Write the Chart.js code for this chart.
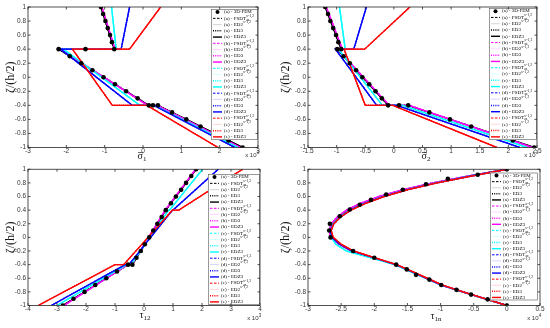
<!DOCTYPE html>
<html>
<head>
<meta charset="utf-8">
<script src="https://cdn.jsdelivr.net/npm/chart.js@4.4.1/dist/chart.umd.min.js"></script>
<style>
  html, body { margin: 0; padding: 0; background: #fff; }
  #wrap { position: relative; width: 550px; height: 328px; }
  #wrap canvas { position: absolute; }
</style>
</head>
<body>
<div id="wrap">
  <canvas id="c1" width="275" height="164" style="left:0;top:0"></canvas>
  <canvas id="c2" width="275" height="164" style="left:275px;top:0"></canvas>
  <canvas id="c3" width="275" height="164" style="left:0;top:164px"></canvas>
  <canvas id="c4" width="275" height="164" style="left:275px;top:164px"></canvas>
</div>
<script>
// legend entries
const caseNames = ['(a)', '(b)', '(c)', '(d)', '(e)'];
const theoryNames = ['FSDT', 'ED2', 'ED3', 'EDZ3'];
const caseColors = ['#000000', '#ff00ff', '#00ffff', '#0000ff', '#ff0000'];
const caseLight = ['#c4c4c4', '#ffc4ff', '#c4ffff', '#c4c4ff', '#ffc4c4'];

// tick labels
const zetaTicks = [-1, -0.8, -0.6, -0.4, -0.2, 0, 0.2, 0.4, 0.6, 0.8, 1];
const sig1Ticks = [-3, -2, -1, 0, 1, 2, 3];
const sig2Ticks = [-1.5, -1, -0.5, 0, 0.5, 1, 1.5, 2, 2.5];
const tau12Ticks = [-4, -3, -2, -1, 0, 1, 2, 3, 4];
const tau1nTicks = [-3, -2.5, -2, -1.5, -1, -0.5, 0, 0.5];

// zeta at layer interfaces (in-plane stresses, piecewise linear)
const zetaLayers = [1, 0.4, 0.4, -0.4, -0.4, -1];
// zeta for the transverse shear curves
const zetaCurve = [1, 0.9, 0.8, 0.7, 0.6, 0.5, 0.4, 0.3, 0.2, 0.1, 0, -0.1, -0.2, -0.3, -0.4, -0.5, -0.6, -0.7, -0.8, -0.9, -1];

// sigma_1 (x 10^3)
const sig1A = [-1.10, -0.75, -2.20, 0.15, 0.39, 2.60];
const sig1B = [-1.07, -0.73, -2.16, 0.12, 0.37, 2.55];
const sig1C = [-0.82, -0.70, -2.08, -0.08, 0.30, 2.48];
const sig1D = [-0.35, -0.57, -2.15, -0.28, 0.28, 2.40];
const sig1E = [0.46, -0.35, -1.84, -0.80, 0.10, 1.96];
const sig1FemZ = [1, 0.9, 0.8, 0.7, 0.6, 0.5, 0.4, 0.4, 0.4, 0.3, 0.2, 0.1, 0, -0.1, -0.2, -0.3, -0.4, -0.4, -0.4, -0.5, -0.6, -0.7, -0.8, -0.9, -1];
const sig1FemX = [-1.10, -1.04, -0.98, -0.92, -0.86, -0.81, -0.75, -1.50, -2.20, -1.91, -1.61, -1.32, -1.03, -0.73, -0.44, -0.14, 0.15, 0.26, 0.39, 0.76, 1.13, 1.50, 1.86, 2.23, 2.60];

// sigma_2 (x 10^3)
const sig2A = [-1.20, -0.92, -0.99, -0.10, 0.25, 2.45];
const sig2B = [-1.18, -0.90, -0.98, -0.08, 0.27, 2.42];
const sig2C = [-0.95, -0.85, -0.97, -0.20, 0.15, 2.33];
const sig2D = [-0.48, -0.70, -1.02, -0.30, 0.05, 2.20];
const sig2E = [0.28, -0.51, -0.87, -0.50, -0.02, 1.80];
const sig2FemZ = [1, 0.9, 0.8, 0.7, 0.6, 0.5, 0.4, 0.4, 0.3, 0.2, 0.1, 0, -0.1, -0.2, -0.3, -0.4, -0.4, -0.4, -0.5, -0.6, -0.7, -0.8, -0.9, -1];
const sig2FemX = [-1.20, -1.15, -1.11, -1.06, -1.01, -0.97, -0.92, -0.99, -0.88, -0.77, -0.66, -0.55, -0.43, -0.32, -0.21, -0.10, 0.09, 0.25, 0.62, 0.98, 1.35, 1.72, 2.08, 2.45];

// tau_12 (x 10^3)
const tau12A = [1.80, 0.75, 0.75, -0.40, -0.55, -2.80];
const tau12B = [1.78, 0.73, 0.73, -0.42, -0.56, -2.76];
const tau12C = [2.02, 0.88, 0.85, -0.45, -0.60, -3.00];
const tau12D = [2.56, 1.00, 0.98, -0.52, -0.65, -3.20];
const tau12E = [3.40, 1.20, 0.98, -0.70, -1.00, -3.65];
const tau12FemZ = [1, 0.9, 0.8, 0.7, 0.6, 0.5, 0.4, 0.3, 0.2, 0.1, 0, -0.1, -0.2, -0.3, -0.4, -0.4, -0.5, -0.6, -0.7, -0.8, -0.9, -1];
const tau12FemX = [1.80, 1.63, 1.45, 1.28, 1.10, 0.93, 0.75, 0.61, 0.46, 0.32, 0.18, 0.03, -0.11, -0.26, -0.40, -0.55, -0.93, -1.30, -1.68, -2.05, -2.43, -2.80];

// tau_1n (x 10^4)
const tau1nA = [0, -0.57, -1.10, -1.55, -1.91, -2.19, -2.41, -2.55, -2.64, -2.68, -2.66, -2.53, -2.34, -2.01, -1.68, -1.45, -1.22, -0.99, -0.67, -0.34, 0];
const tau1nB = [0, -0.58, -1.12, -1.57, -1.93, -2.21, -2.42, -2.56, -2.65, -2.68, -2.66, -2.53, -2.34, -2.01, -1.68, -1.45, -1.22, -0.99, -0.67, -0.34, 0];
const tau1nC = [0, -0.55, -1.07, -1.51, -1.87, -2.15, -2.37, -2.52, -2.62, -2.66, -2.65, -2.58, -2.42, -2.05, -1.69, -1.46, -1.22, -0.99, -0.67, -0.34, 0];
const tau1nD = [0, -0.54, -1.06, -1.50, -1.86, -2.14, -2.36, -2.51, -2.61, -2.66, -2.64, -2.52, -2.33, -2.00, -1.67, -1.44, -1.21, -0.98, -0.66, -0.33, 0];
const tau1nE = [0, -0.53, -1.05, -1.49, -1.85, -2.13, -2.35, -2.51, -2.61, -2.65, -2.62, -2.50, -2.31, -1.99, -1.66, -1.43, -1.20, -0.97, -0.66, -0.33, 0];
const tau1nFemZ = [1, 0.92, 0.86, 0.78, 0.70, 0.63, 0.55, 0.48, 0.41, 0.31, 0.2, 0.1, 0, -0.2, -0.3, -0.4, -0.47, -0.55, -0.62, -0.7, -0.77, -0.84, -0.91, -1];
const tau1nFemX = [0, -0.44, -0.89, -1.22, -1.57, -1.82, -2.05, -2.22, -2.37, -2.52, -2.67, -2.68, -2.66, -2.32, -2.00, -1.67, -1.51, -1.37, -1.17, -0.99, -0.76, -0.54, -0.29, 0];

// FSDT, ED2, ED3, EDZ3 line looks
const lineStyles = [
  { dash: [2.5, 1.5], width: 1, light: false },
  { dash: [], width: 0.7, light: true },
  { dash: [1, 1.2], width: 1.5, light: false },
  { dash: [], width: 1.4, light: false }
];

const SERIF = '"Liberation Serif", "DejaVu Serif", serif';
const SANS = '"Liberation Sans", Arial, sans-serif';

const panels = [
  { id: 'c1', xTicks: sig1Ticks, min: -3, max: 3, zeta: zetaLayers,
    cases: [sig1A, sig1B, sig1C, sig1D, sig1E], femZ: sig1FemZ, femX: sig1FemX,
    area: { left: 28, top: 7, right: 258, bottom: 147.5 },
    xLabel: { sym: 'σ', sub: '1', bar: true, cx: 142, y: 159 }, exp: '3', expY: 155,
    legend: { x: 211, y: 9, w: 47, h: 131 } },
  { id: 'c2', xTicks: sig2Ticks, min: -1.5, max: 2.5, zeta: zetaLayers,
    cases: [sig2A, sig2B, sig2C, sig2D, sig2E], femZ: sig2FemZ, femX: sig2FemX,
    area: { left: 33, top: 7, right: 262, bottom: 147.5 },
    xLabel: { sym: 'σ', sub: '2', bar: true, cx: 151, y: 159 }, exp: '3', expY: 155,
    legend: { x: 214, y: 8, w: 48, h: 132 } },
  { id: 'c3', xTicks: tau12Ticks, min: -4, max: 4, zeta: zetaLayers,
    cases: [tau12A, tau12B, tau12C, tau12D, tau12E], femZ: tau12FemZ, femX: tau12FemX,
    area: { left: 28, top: 3.3, right: 260, bottom: 141.5 },
    xLabel: { sym: 'τ', sub: '12', bar: false, cx: 145, y: 154 }, exp: '3', expY: 154,
    legend: { x: 208, y: 10, w: 52, h: 131 } },
  { id: 'c4', xTicks: tau1nTicks, min: -3, max: 0.5, zeta: zetaCurve,
    cases: [tau1nA, tau1nB, tau1nC, tau1nD, tau1nE], femZ: tau1nFemZ, femX: tau1nFemX,
    area: { left: 33, top: 3.3, right: 265, bottom: 141.5 },
    xLabel: { sym: 'τ', sub: '1n', bar: false, cx: 161, y: 155 }, exp: '4', expY: 154,
    legend: { x: 215, y: 8.5, w: 48, h: 128 } }
];

function buildDatasets(p) {
  const ds = [{
    data: p.femX.map((x, i) => ({ x: x, y: p.femZ[i] })),
    showLine: false, pointRadius: 2.3, pointBackgroundColor: '#000', pointBorderWidth: 0,
    borderColor: '#000', order: 0
  }];
  p.cases.forEach((xs, k) => {
    theoryNames.forEach((t, j) => {
      const st = lineStyles[j];
      ds.push({
        data: xs.map((x, i) => ({ x: x, y: p.zeta[i] })),
        showLine: true, pointRadius: 0, tension: 0,
        borderColor: st.light ? caseLight[k] : caseColors[k],
        borderWidth: st.width, borderDash: st.dash,
        order: 1 + (4 - k) * 4 + (3 - j)
      });
    });
  });
  return ds;
}

// text with optional stacked super/subscript
function drawRich(ctx, x, y, base, sup, sub, size) {
  ctx.font = size + 'px ' + SERIF;
  ctx.fillText(base, x, y);
  const w = ctx.measureText(base).width;
  const small = size * 0.7;
  ctx.font = small + 'px ' + SERIF;
  if (sup) ctx.fillText(sup, x + w + 0.3, y - size * 0.45);
  if (sub) ctx.fillText(sub, x + w + 0.3, y + size * 0.3);
}

function drawLegend(ctx, L) {
  ctx.save();
  ctx.fillStyle = '#fff';
  ctx.fillRect(L.x, L.y, L.w, L.h);
  ctx.strokeStyle = '#555';
  ctx.lineWidth = 0.6;
  ctx.strokeRect(L.x + 0.5, L.y + 0.5, L.w - 1, L.h - 1);
  const rows = 1 + caseNames.length * theoryNames.length;
  const rh = L.h / rows;
  ctx.textBaseline = 'middle';
  for (let r = 0; r < rows; r++) {
    const cy = L.y + rh * (r + 0.5);
    const x0 = L.x + 2, x1 = L.x + 11;
    ctx.fillStyle = '#000';
    if (r === 0) {
      ctx.beginPath();
      ctx.arc((x0 + x1) / 2, cy, 2, 0, Math.PI * 2);
      ctx.fill();
      drawRich(ctx, L.x + 13, cy, '(a) - 3D-FEM', null, null, 5);
      continue;
    }
    const k = Math.floor((r - 1) / 4), j = (r - 1) % 4;
    const st = lineStyles[j];
    ctx.strokeStyle = st.light ? caseLight[k] : caseColors[k];
    ctx.lineWidth = st.width;
    ctx.setLineDash(st.dash);
    ctx.beginPath();
    ctx.moveTo(x0, cy);
    ctx.lineTo(x1, cy);
    ctx.stroke();
    ctx.setLineDash([]);
    ctx.fillStyle = '#000';
    const base = caseNames[k] + ' - ' + theoryNames[j];
    if (j === 0) drawRich(ctx, L.x + 13, cy, base, 's=1,2', 'zz', 5);
    else if (j === 1) drawRich(ctx, L.x + 13, cy, base, 's=1,2', null, 5);
    else drawRich(ctx, L.x + 13, cy, base, null, null, 5);
  }
  ctx.restore();
}

function makeDecor(p) {
  return {
    id: 'decor_' + p.id,
    afterDraw(chart) {
      const ctx = chart.ctx;
      const a = chart.chartArea;
      const xs = chart.scales.x, ys = chart.scales.y;
      drawLegend(ctx, p.legend);

      ctx.save();
      // box and inward ticks
      ctx.strokeStyle = '#262626';
      ctx.lineWidth = 0.8;
      ctx.strokeRect(a.left, a.top, a.right - a.left, a.bottom - a.top);
      ctx.beginPath();
      p.xTicks.forEach(v => {
        const px = xs.getPixelForValue(v);
        ctx.moveTo(px, a.bottom); ctx.lineTo(px, a.bottom - 2.5);
        ctx.moveTo(px, a.top); ctx.lineTo(px, a.top + 2.5);
      });
      zetaTicks.forEach(v => {
        const py = ys.getPixelForValue(v);
        ctx.moveTo(a.left, py); ctx.lineTo(a.left + 2.5, py);
        ctx.moveTo(a.right, py); ctx.lineTo(a.right - 2.5, py);
      });
      ctx.stroke();

      // y label
      ctx.fillStyle = '#111';
      ctx.save();
      ctx.translate(10.5, (a.top + a.bottom) / 2);
      ctx.rotate(-Math.PI / 2);
      ctx.font = '12px ' + SERIF;
      ctx.textAlign = 'center';
      ctx.textBaseline = 'middle';
      ctx.fillText('ζ/(h/2)', 0, 0);
      ctx.restore();

      // x label
      const lb = p.xLabel;
      ctx.textBaseline = 'alphabetic';
      ctx.font = '10px ' + SERIF;
      const wSym = ctx.measureText(lb.sym).width;
      ctx.font = '7px ' + SERIF;
      const wSub = ctx.measureText(lb.sub).width;
      const sx = lb.cx - (wSym + wSub) / 2;
      ctx.font = '10px ' + SERIF;
      ctx.fillText(lb.sym, sx, lb.y);
      if (lb.bar) {
        ctx.lineWidth = 0.7;
        ctx.beginPath();
        ctx.moveTo(sx + 0.5, lb.y - 6.5);
        ctx.lineTo(sx + wSym - 0.2, lb.y - 6.5);
        ctx.stroke();
      }
      ctx.font = '7px ' + SERIF;
      ctx.fillText(lb.sub, sx + wSym, lb.y + 2);

      // exponent
      ctx.fillStyle = '#333';
      ctx.font = '6px ' + SANS;
      ctx.textBaseline = 'middle';
      const t = 'x 10';
      const wt = ctx.measureText(t).width;
      ctx.font = '4.5px ' + SANS;
      const we = ctx.measureText(p.exp).width;
      const ex = a.right + 1 - wt - we;
      ctx.font = '6px ' + SANS;
      ctx.fillText(t, ex, p.expY);
      ctx.font = '4.5px ' + SANS;
      ctx.fillText(p.exp, ex + wt + 0.3, p.expY - 2.2);
      ctx.restore();
    }
  };
}

panels.forEach(p => {
  const ctx = document.getElementById(p.id).getContext('2d');
  new Chart(ctx, {
    type: 'scatter',
    data: { datasets: buildDatasets(p) },
    options: {
      responsive: false,
      animation: false,
      devicePixelRatio: 1,
      events: [],
      layout: { padding: { left: 0, top: p.area.top, right: 275 - p.area.right, bottom: 0 } },
      plugins: { legend: { display: false }, tooltip: { enabled: false } },
      scales: {
        x: {
          type: 'linear', min: p.min, max: p.max,
          afterBuildTicks: s => { s.ticks = p.xTicks.map(v => ({ value: v })); },
          afterFit: s => { s.height = 164 - p.area.bottom; },
          grid: { display: false, drawTicks: false },
          border: { display: false },
          ticks: { padding: 0, maxRotation: 0, autoSkip: false, color: '#333',
                   font: { family: SANS, size: 6.5, lineHeight: 1 }, callback: v => String(v) }
        },
        y: {
          type: 'linear', min: -1, max: 1,
          afterBuildTicks: s => { s.ticks = zetaTicks.map(v => ({ value: v })); },
          afterFit: s => { s.width = p.area.left; },
          grid: { display: false, drawTicks: false },
          border: { display: false },
          ticks: { padding: 2, autoSkip: false, color: '#333',
                   font: { family: SANS, size: 6.5, lineHeight: 1 }, callback: v => String(v) }
        }
      }
    },
    plugins: [makeDecor(p)]
  });
});
</script>
</body>
</html>
